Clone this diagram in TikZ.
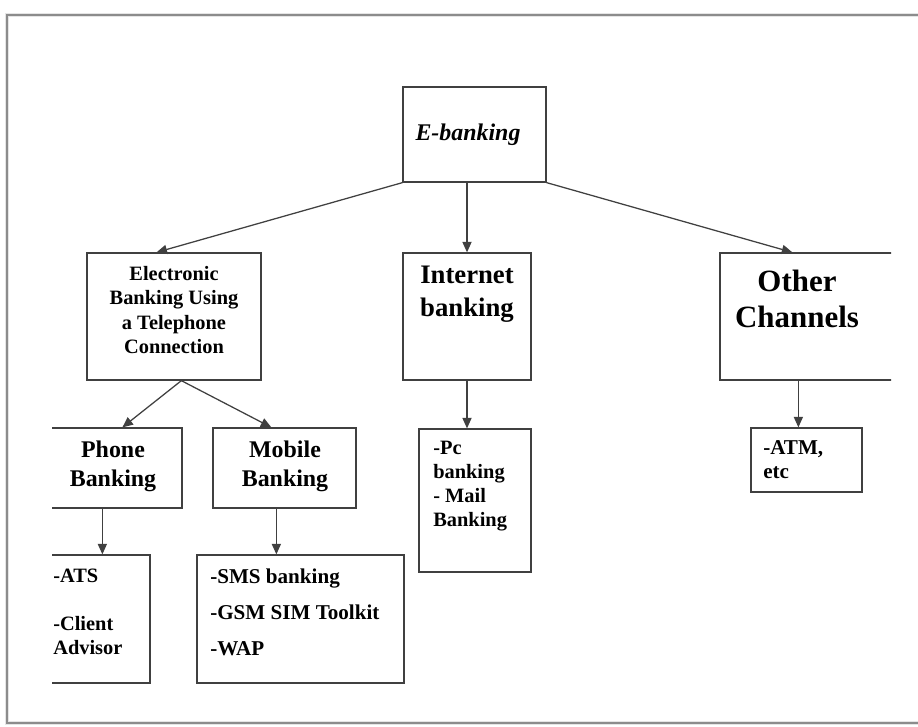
\documentclass[tikz,border=0pt]{standalone}
\usepackage{fontspec}
\setmainfont{Liberation Serif}
\usetikzlibrary{arrows.meta,positioning,fit,calc}

\tikzset{
  bx/.style={draw=black!75, line width=.9pt, inner sep=0pt},
  lbl/.style={inner sep=0pt, align=center,
    font=\bfseries\fontsize{14.5}{17.4}\selectfont},
  itm/.style={inner sep=0pt, align=left, anchor=west,
    font=\bfseries\fontsize{14.5}{17}\selectfont},
  arr/.style={-{Triangle[length=7.5pt,width=6.5pt]}, draw=black!75, line width=.9pt}
}

\begin{document}
\begin{tikzpicture}[x=0.025cm,y=-0.025cm]
  \useasboundingbox (0,0) rectangle (918,726);
  \clip (0,0) rectangle (918,726);
  % page frame
  \draw[black!10, line width=3pt] (7,15) rectangle (940,723);
  \draw[black!45, line width=1pt] (7,15) rectangle (940,723);

  \begin{scope}
    \clip (52,0) rectangle (891,726);
    % boxes
    \node[bx, fit={(403,87) (546,182)}] (eb) {};
    \node[bx, fit={(87,253) (261,380)}] (tel) {};
    \node[bx, fit={(403,253) (531,380)}] (int) {};
    \node[bx, fit={(720,253) (905,380)}] (oth) {};
    \node[bx, fit={(40,428) (182,508)}] (ph) {};
    \node[bx, fit={(213,428) (356,508)}] (mob) {};
    \node[bx, fit={(40,555) (150,683)}] (ats) {};
    \node[bx, fit={(197,555) (404,683)}] (sms) {};
    \node[bx, fit={(419,429) (531,572)}] (pc) {};
    \node[bx, fit={(751,428) (862,492)}] (atm) {};

    % texts
    \node[lbl, font=\bfseries\itshape\fontsize{17}{20}\selectfont] (eb-t) at (468,135) {E-banking};
    \node[lbl] (tel-t) at (174,310) {Electronic\\Banking Using\\a Telephone\\Connection};
    \node[lbl, font=\bfseries\fontsize{19}{23.4}\selectfont] (int-t) at (467,294) {Internet\\banking};
    \node[lbl, font=\bfseries\fontsize{22}{26}\selectfont] (oth-t) at (797,299) {Other\\Channels};
    \node[lbl, font=\bfseries\fontsize{17}{20.5}\selectfont] (ph-t) at (113,466) {Phone\\Banking};
    \node[lbl, font=\bfseries\fontsize{17}{20.5}\selectfont] (mob-t) at (285,466) {Mobile\\Banking};
    \node[itm] (ats-t) at (53,612) {-ATS\\[17pt]-Client\\Advisor};
    \node[itm, font=\bfseries\fontsize{15}{25.5}\selectfont] (sms-t) at (210,612) {-SMS banking\\-GSM SIM Toolkit\\-WAP};
    \node[itm] (pc-t) at (433,486) {-Pc\\banking\\- Mail\\Banking};
    \node[itm, font=\bfseries\fontsize{15}{17}\selectfont] (atm-t) at (763,460) {-ATM,\\etc};

    % connectors
    \draw[arr] (eb.south west) -- ($(tel.north west)!.4!(tel.north east)$);
    \draw[arr] (eb.south -| int.north) -- (int.north);
    \draw[arr] (eb.south east) -- ($(oth.north west)+(73,0)$);
    \coordinate (tel-out) at ($(tel.south west)+(95,0)$);
    \draw[arr] (tel-out) -- ($(ph.north west)+(83,0)$);
    \draw[arr] (tel-out) -- ($(mob.north west)+(59,0)$);
    \draw[arr] ($(ph.south west)+(63,0)$) -- ($(ats.north west)+(63,0)$);
    \draw[arr] ($(mob.south west)+(64,0)$) -- ($(sms.north west)+(80,0)$);
    \draw[arr] (int.south) -- (int.south |- pc.north);
    \draw[arr] ($(oth.south west)+(79,0)$) -- ($(atm.north west)+(48,0)$);
  \end{scope}
\end{tikzpicture}
\end{document}
